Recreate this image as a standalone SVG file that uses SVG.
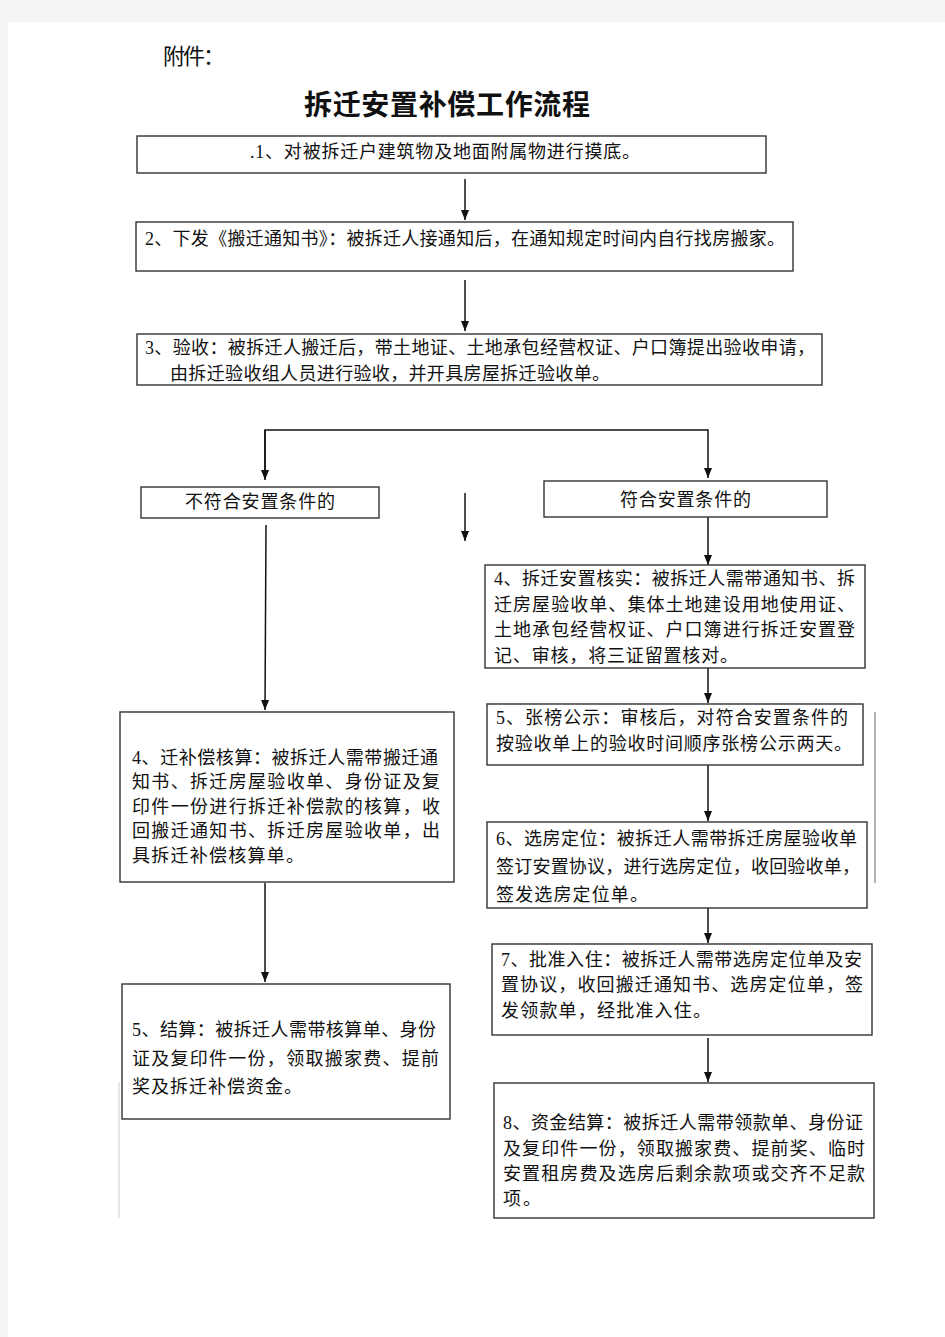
<svg xmlns="http://www.w3.org/2000/svg" width="945" height="1337" viewBox="0 0 945 1337">
<defs>
<style>
.box{fill:#fff;stroke:#333;stroke-width:1.4}
.t{font-family:"Liberation Serif","Noto Sans CJK SC",serif;font-size:18px;fill:#111}
.c{fill:none;stroke:#111;stroke-width:1.5}
</style>
<marker id="ah" viewBox="0 0 10 8" refX="10" refY="4" markerWidth="10" markerHeight="9" markerUnits="userSpaceOnUse" orient="auto">
<path d="M0,0 L10,4 L0,8 z" fill="#111"/>
</marker>
</defs>
<rect x="0" y="0" width="945" height="1337" fill="#f4f4f4"/>
<rect x="8" y="22" width="937" height="1315" fill="#fff"/>
<g id="header">
<text class="t" x="163" y="64" style="font-size:22px" textLength="62" lengthAdjust="spacing">附件：</text>
<text class="t" x="304" y="115" style="font-size:28px;font-weight:bold" textLength="286" lengthAdjust="spacing">拆迁安置补偿工作流程</text>
</g>
<g id="connectors">
<line class="c" x1="465" y1="179" x2="465" y2="220" marker-end="url(#ah)"/>
<line class="c" x1="465" y1="280" x2="465" y2="331" marker-end="url(#ah)"/>
<polyline class="c" points="265,479 265,430 708,430 708,478" marker-end="url(#ah)"/>
<line class="c" x1="265" y1="430" x2="265" y2="480" marker-end="url(#ah)"/>
<line class="c" x1="465" y1="493" x2="465" y2="541" marker-end="url(#ah)"/>
<line class="c" x1="266" y1="525" x2="265" y2="710" marker-end="url(#ah)"/>
<line class="c" x1="265" y1="883" x2="265" y2="982" marker-end="url(#ah)"/>
<line class="c" x1="708" y1="517" x2="708" y2="565" marker-end="url(#ah)"/>
<line class="c" x1="708" y1="660" x2="708" y2="703" marker-end="url(#ah)"/>
<line class="c" x1="708" y1="759" x2="708" y2="821" marker-end="url(#ah)"/>
<line class="c" x1="708" y1="908" x2="708" y2="943" marker-end="url(#ah)"/>
<line class="c" x1="708" y1="1038" x2="708" y2="1082" marker-end="url(#ah)"/>
<line x1="875" y1="712" x2="875" y2="883" stroke="#666" stroke-width="1"/>
<line x1="119" y1="1082" x2="119" y2="1218" stroke="#ccc" stroke-width="1"/>
</g>
<g id="step1">
<rect class="box" x="137" y="136" width="629" height="37"/>
<text class="t" x="250" y="158" textLength="390" lengthAdjust="spacing">.1、对被拆迁户建筑物及地面附属物进行摸底。</text>
</g>
<g id="step2">
<rect class="box" x="136" y="222" width="657" height="49"/>
<text class="t" x="145" y="245" textLength="640" lengthAdjust="spacing">2、下发《搬迁通知书》：被拆迁人接通知后，在通知规定时间内自行找房搬家。</text>
</g>
<g id="step3">
<rect class="box" x="137" y="334" width="685" height="51"/>
<text class="t" x="145" y="354" textLength="670" lengthAdjust="spacing">3、验收：被拆迁人搬迁后，带土地证、土地承包经营权证、户口簿提出验收申请，</text>
<text class="t" x="170" y="380" textLength="440" lengthAdjust="spacing">由拆迁验收组人员进行验收，并开具房屋拆迁验收单。</text>
</g>
<g id="not-eligible">
<rect class="box" x="141" y="487" width="238" height="31"/>
<text class="t" x="185" y="508" textLength="150" lengthAdjust="spacing">不符合安置条件的</text>
</g>
<g id="eligible">
<rect class="box" x="544" y="481" width="283" height="36"/>
<text class="t" x="620" y="506" textLength="131" lengthAdjust="spacing">符合安置条件的</text>
</g>
<g id="left4">
<rect class="box" x="120" y="712" width="334" height="170"/>
<text class="t" x="132" y="764" textLength="306" lengthAdjust="spacing">4、迁补偿核算：被拆迁人需带搬迁通</text>
<text class="t" x="132" y="788" textLength="308" lengthAdjust="spacing">知书、拆迁房屋验收单、身份证及复</text>
<text class="t" x="132" y="813" textLength="308" lengthAdjust="spacing">印件一份进行拆迁补偿款的核算，收</text>
<text class="t" x="132" y="837" textLength="308" lengthAdjust="spacing">回搬迁通知书、拆迁房屋验收单，出</text>
<text class="t" x="132" y="862" textLength="172" lengthAdjust="spacing">具拆迁补偿核算单。</text>
</g>
<g id="left5">
<rect class="box" x="122" y="984" width="328" height="135"/>
<text class="t" x="132" y="1036" textLength="304" lengthAdjust="spacing">5、结算：被拆迁人需带核算单、身份</text>
<text class="t" x="132" y="1065" textLength="307" lengthAdjust="spacing">证及复印件一份，领取搬家费、提前</text>
<text class="t" x="132" y="1093" textLength="170" lengthAdjust="spacing">奖及拆迁补偿资金。</text>
</g>
<g id="right4">
<rect class="box" x="485" y="565" width="380" height="103"/>
<text class="t" x="494" y="585" textLength="361" lengthAdjust="spacing">4、拆迁安置核实：被拆迁人需带通知书、拆</text>
<text class="t" x="494" y="611" textLength="361" lengthAdjust="spacing">迁房屋验收单、集体土地建设用地使用证、</text>
<text class="t" x="494" y="636" textLength="361" lengthAdjust="spacing">土地承包经营权证、户口簿进行拆迁安置登</text>
<text class="t" x="494" y="662" textLength="244" lengthAdjust="spacing">记、审核，将三证留置核对。</text>
</g>
<g id="right5">
<rect class="box" x="487" y="704" width="376" height="61"/>
<text class="t" x="496" y="724" textLength="352" lengthAdjust="spacing">5、张榜公示：审核后，对符合安置条件的</text>
<text class="t" x="496" y="750" textLength="356" lengthAdjust="spacing">按验收单上的验收时间顺序张榜公示两天。</text>
</g>
<g id="right6">
<rect class="box" x="487" y="822" width="380" height="86"/>
<text class="t" x="496" y="845" textLength="361" lengthAdjust="spacing">6、选房定位：被拆迁人需带拆迁房屋验收单</text>
<text class="t" x="496" y="873" textLength="364" lengthAdjust="spacing">签订安置协议，进行选房定位，收回验收单，</text>
<text class="t" x="496" y="901" textLength="152" lengthAdjust="spacing">签发选房定位单。</text>
</g>
<g id="right7">
<rect class="box" x="492" y="944" width="380" height="91"/>
<text class="t" x="501" y="966" textLength="361" lengthAdjust="spacing">7、批准入住：被拆迁人需带选房定位单及安</text>
<text class="t" x="501" y="991" textLength="362" lengthAdjust="spacing">置协议，收回搬迁通知书、选房定位单，签</text>
<text class="t" x="501" y="1017" textLength="210" lengthAdjust="spacing">发领款单，经批准入住。</text>
</g>
<g id="right8">
<rect class="box" x="494" y="1083" width="380" height="135"/>
<text class="t" x="503" y="1129" textLength="360" lengthAdjust="spacing">8、资金结算：被拆迁人需带领款单、身份证</text>
<text class="t" x="503" y="1155" textLength="362" lengthAdjust="spacing">及复印件一份，领取搬家费、提前奖、临时</text>
<text class="t" x="503" y="1180" textLength="362" lengthAdjust="spacing">安置租房费及选房后剩余款项或交齐不足款</text>
<text class="t" x="503" y="1205" textLength="38" lengthAdjust="spacing">项。</text>
</g>
</svg>
